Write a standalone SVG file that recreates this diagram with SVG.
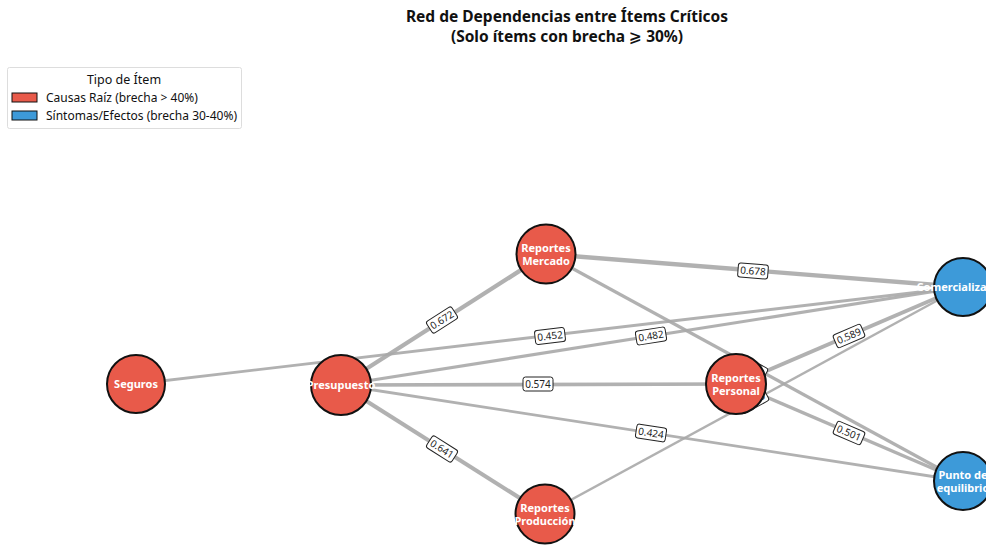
<svg xmlns="http://www.w3.org/2000/svg" width="986" height="545" viewBox="0 0 986 545">
<style>
.t{font-family:"Noto Sans","Open Sans","DejaVu Sans",sans-serif;fill:#111}
.title{font-size:15.5px;font-weight:bold;text-anchor:middle}
.lg{font-size:12.5px}
.e{stroke:#a8a8a8;stroke-opacity:0.9;fill:none;stroke-linecap:butt}
.lb rect{fill:#fff;stroke:#222;stroke-width:1}
.lb text{font-family:"Noto Sans","Open Sans","DejaVu Sans",sans-serif;font-size:10px;fill:#222;text-anchor:middle}
.n circle{stroke:#111;stroke-width:2}
.red{fill:#e85a4a}
.blue{fill:#3d9ad9}
.n text{font-family:"Noto Sans","Open Sans","DejaVu Sans",sans-serif;font-size:11px;font-weight:bold;fill:#fff;text-anchor:middle}
</style>
<rect width="986" height="545" fill="#fff"/>
<text class="t title" x="567" y="22">Red de Dependencias entre Ítems Críticos</text>
<text class="t title" x="567" y="42">(Solo ítems con brecha <tspan font-family="DejaVu Sans">⩾</tspan> 30%)</text>

<g id="legend">
<rect x="7.5" y="67.5" width="234" height="61" rx="2" fill="#fff" stroke="#ddd"/>
<text class="t lg" x="124" y="84" text-anchor="middle">Tipo de Ítem</text>
<rect x="12" y="93" width="25" height="9" class="red" stroke="#111" stroke-width="1"/>
<text class="t" font-size="12" x="46" y="102">Causas Raíz (brecha &gt; 40%)</text>
<rect x="12" y="111" width="25" height="9" class="blue" stroke="#111" stroke-width="1"/>
<text class="t" font-size="12" x="46" y="120">Síntomas/Efectos (brecha 30-40%)</text>
</g>

<g id="connectors">
<line class="e" x1="136" y1="384" x2="962" y2="287" stroke-width="2.9"/>
<line class="e" x1="341" y1="385" x2="962" y2="287" stroke-width="3.1"/>
<line class="e" x1="341" y1="385" x2="546" y2="254" stroke-width="4.4"/>
<line class="e" x1="341" y1="385" x2="736" y2="384" stroke-width="3.7"/>
<line class="e" x1="341" y1="385" x2="545" y2="514" stroke-width="4.2"/>
<line class="e" x1="341" y1="385" x2="962" y2="481" stroke-width="2.8"/>
<line class="e" x1="546" y1="254" x2="962" y2="287" stroke-width="4.4"/>
<line class="e" x1="546" y1="254" x2="962" y2="481" stroke-width="3.3"/>
<line class="e" x1="736" y1="384" x2="962" y2="287" stroke-width="3.8"/>
<line class="e" x1="736" y1="384" x2="962" y2="481" stroke-width="3.3"/>
<line class="e" x1="545" y1="514" x2="962" y2="287" stroke-width="2.4"/>

<g class="lb" transform="translate(550,336) rotate(-6.6)"><rect x="-15" y="-7" width="30" height="14" rx="2.5"/><text y="3.5">0.452</text></g>
<g class="lb" transform="translate(651,336) rotate(-9)"><rect x="-15" y="-7" width="30" height="14" rx="2.5"/><text y="3.5">0.482</text></g>
<g class="lb" transform="translate(442,320) rotate(-32.5)"><rect x="-15" y="-7" width="30" height="14" rx="2.5"/><text y="3.5">0.672</text></g>
<g class="lb" transform="translate(538,384)"><rect x="-15" y="-7" width="30" height="14" rx="2.5"/><text y="3.5">0.574</text></g>
<g class="lb" transform="translate(442,449) rotate(32.3)"><rect x="-15" y="-7" width="30" height="14" rx="2.5"/><text y="3.5">0.641</text></g>
<g class="lb" transform="translate(651,433) rotate(8.8)"><rect x="-15" y="-7" width="30" height="14" rx="2.5"/><text y="3.5">0.424</text></g>
<g class="lb" transform="translate(753,271) rotate(4.5)"><rect x="-15" y="-7" width="30" height="14" rx="2.5"/><text y="3.5">0.678</text></g>
<g class="lb" transform="translate(752,368) rotate(28.6)"><rect x="-15" y="-7" width="30" height="14" rx="2.5"/><text y="3.5">0.512</text></g>
<g class="lb" transform="translate(849,336) rotate(-23.2)"><rect x="-15" y="-7" width="30" height="14" rx="2.5"/><text y="3.5">0.589</text></g>
<g class="lb" transform="translate(849,433) rotate(23.2)"><rect x="-15" y="-7" width="30" height="14" rx="2.5"/><text y="3.5">0.501</text></g>
<g class="lb" transform="translate(753,401) rotate(-28.6)"><rect x="-15" y="-7" width="30" height="14" rx="2.5"/><text y="3.5">0.363</text></g>
</g>

<g id="n-seguros" class="n"><circle class="red" cx="136" cy="384" r="29"/><text x="136" y="388">Seguros</text></g>
<g id="n-presupuesto" class="n"><circle class="red" cx="341" cy="385" r="30"/><text x="341" y="389">Presupuesto</text></g>
<g id="n-mercado" class="n"><circle class="red" cx="546" cy="254" r="29.5"/><text x="546" y="252">Reportes<tspan x="546" dy="13">Mercado</tspan></text></g>
<g id="n-personal" class="n"><circle class="red" cx="736" cy="384" r="30"/><text x="736" y="382">Reportes<tspan x="736" dy="13">Personal</tspan></text></g>
<g id="n-produccion" class="n"><circle class="red" cx="545" cy="514" r="29.5"/><text x="545" y="512">Reportes<tspan x="545" dy="13">Producción</tspan></text></g>
<g id="n-comercializacion" class="n"><circle class="blue" cx="963" cy="287" r="29"/><text x="963" y="291">Comercialización</text></g>
<g id="n-punto" class="n"><circle class="blue" cx="963" cy="481" r="29"/><text x="963" y="479">Punto de<tspan x="963" dy="13">equilibrio</tspan></text></g>
</svg>
